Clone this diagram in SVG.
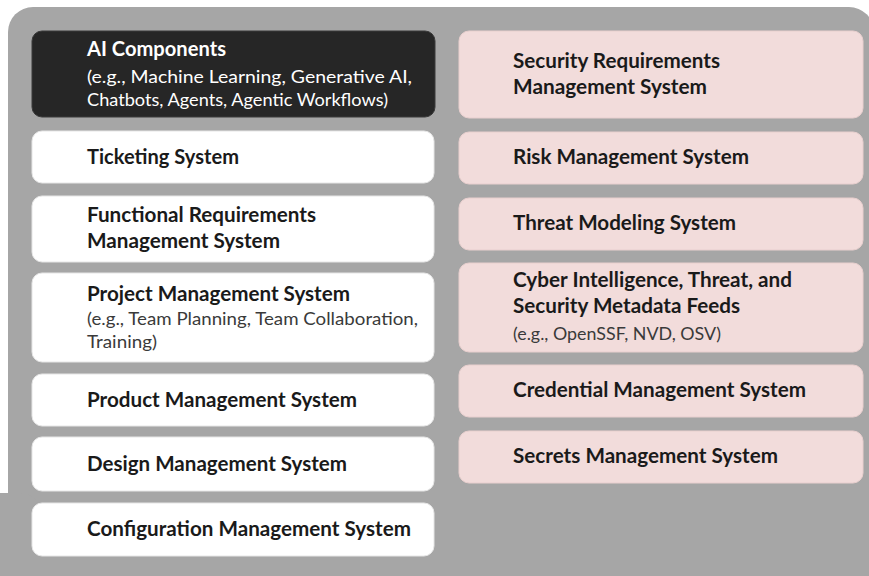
<svg xmlns="http://www.w3.org/2000/svg" width="869" height="576" viewBox="0 0 869 576">
  <style>
    .panel { fill: #a6a6a6; }
    .box { fill: #ffffff; stroke: #e6e6e6; stroke-width: 1; }
    .dark { fill: #262626; stroke: #3a3a3a; stroke-width: 1; }
    .pink { fill: #f2dcdb; stroke: #e8cfce; stroke-width: 1; }
    text { font-family: Lato, "Open Sans", "Liberation Sans", sans-serif; }
    .t { font-size: 20px; font-weight: bold; fill: #1a1a1a; }
    .s { font-size: 18px; fill: #3a3a3a; }
    .w { fill: #ffffff; }
  </style>

  <!-- background panel -->
  <g id="panel">
    <rect class="panel" x="8" y="7" width="866" height="620" rx="25" ry="25"/>
    <rect class="panel" x="-20" y="493" width="60" height="120" rx="20" ry="20"/>
  </g>

  <!-- left column -->
  <g id="ai-components">
    <rect class="dark" x="32" y="31" width="403" height="86" rx="10"/>
    <text class="t w" x="87" y="56" textLength="139" lengthAdjust="spacingAndGlyphs">AI Components</text>
    <text class="s w" x="87" y="83" textLength="325" lengthAdjust="spacingAndGlyphs">(e.g., Machine Learning, Generative AI,</text>
    <text class="s w" x="87" y="106" textLength="301" lengthAdjust="spacingAndGlyphs">Chatbots, Agents, Agentic Workflows)</text>
  </g>
  <g id="ticketing">
    <rect class="box" x="32" y="131" width="402" height="52" rx="10"/>
    <text class="t" x="87" y="164" textLength="152" lengthAdjust="spacingAndGlyphs">Ticketing System</text>
  </g>
  <g id="functional-requirements">
    <rect class="box" x="32" y="196" width="402" height="66" rx="10"/>
    <text class="t" x="87" y="222" textLength="229" lengthAdjust="spacingAndGlyphs">Functional Requirements</text>
    <text class="t" x="87" y="248" textLength="193" lengthAdjust="spacingAndGlyphs">Management System</text>
  </g>
  <g id="project-management">
    <rect class="box" x="32" y="273" width="402" height="89" rx="10"/>
    <text class="t" x="87" y="301" textLength="263" lengthAdjust="spacingAndGlyphs">Project Management System</text>
    <text class="s" x="87" y="325" textLength="331" lengthAdjust="spacingAndGlyphs">(e.g., Team Planning, Team Collaboration,</text>
    <text class="s" x="87" y="348" textLength="70" lengthAdjust="spacingAndGlyphs">Training)</text>
  </g>
  <g id="product-management">
    <rect class="box" x="32" y="374" width="402" height="52" rx="10"/>
    <text class="t" x="87" y="407" textLength="270" lengthAdjust="spacingAndGlyphs">Product Management System</text>
  </g>
  <g id="design-management">
    <rect class="box" x="32" y="437" width="402" height="54" rx="10"/>
    <text class="t" x="87" y="471" textLength="260" lengthAdjust="spacingAndGlyphs">Design Management System</text>
  </g>
  <g id="configuration-management">
    <rect class="box" x="32" y="503" width="402" height="53" rx="10"/>
    <text class="t" x="87" y="536" textLength="324" lengthAdjust="spacingAndGlyphs">Configuration Management System</text>
  </g>

  <!-- right column -->
  <g id="security-requirements">
    <rect class="pink" x="459" y="31" width="404" height="87" rx="10"/>
    <text class="t" x="513" y="68" textLength="207" lengthAdjust="spacingAndGlyphs">Security Requirements</text>
    <text class="t" x="513" y="94" textLength="194" lengthAdjust="spacingAndGlyphs">Management System</text>
  </g>
  <g id="risk-management">
    <rect class="pink" x="459" y="132" width="404" height="52" rx="10"/>
    <text class="t" x="513" y="164" textLength="236" lengthAdjust="spacingAndGlyphs">Risk Management System</text>
  </g>
  <g id="threat-modeling">
    <rect class="pink" x="459" y="198" width="404" height="52" rx="10"/>
    <text class="t" x="513" y="230" textLength="223" lengthAdjust="spacingAndGlyphs">Threat Modeling System</text>
  </g>
  <g id="cyber-intelligence">
    <rect class="pink" x="459" y="263" width="404" height="89" rx="10"/>
    <text class="t" x="513" y="287" textLength="279" lengthAdjust="spacingAndGlyphs">Cyber Intelligence, Threat, and</text>
    <text class="t" x="513" y="313" textLength="227" lengthAdjust="spacingAndGlyphs">Security Metadata Feeds</text>
    <text class="s" x="513" y="340" textLength="208" lengthAdjust="spacingAndGlyphs">(e.g., OpenSSF, NVD, OSV)</text>
  </g>
  <g id="credential-management">
    <rect class="pink" x="459" y="365" width="404" height="52" rx="10"/>
    <text class="t" x="513" y="397" textLength="293" lengthAdjust="spacingAndGlyphs">Credential Management System</text>
  </g>
  <g id="secrets-management">
    <rect class="pink" x="459" y="431" width="404" height="52" rx="10"/>
    <text class="t" x="513" y="463" textLength="265" lengthAdjust="spacingAndGlyphs">Secrets Management System</text>
  </g>

  <!-- no connectors in this layout -->
  <g id="connectors"/>
</svg>
